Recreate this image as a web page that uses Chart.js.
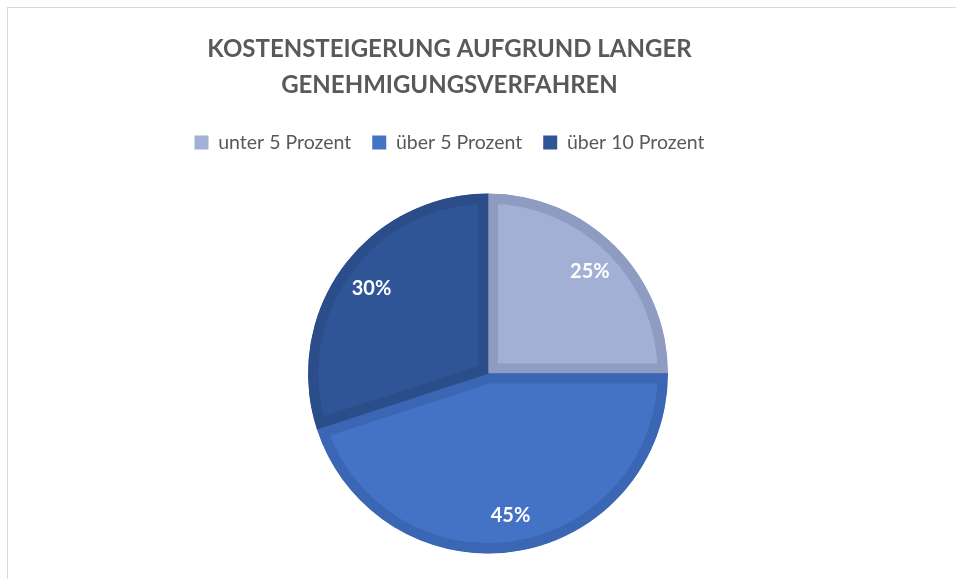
<!DOCTYPE html>
<html>
<head>
<meta charset="utf-8">
<script src="https://cdn.jsdelivr.net/npm/chart.js@4/dist/chart.umd.min.js"></script>
<style>
  html, body { margin: 0; padding: 0; background: #fff; }
  #frame {
    position: absolute; left: 7px; top: 7px; width: 949px; height: 572px;
    border-top: 1px solid #d9d9d9; border-left: 1px solid #d9d9d9;
  }
  #wrap { position: absolute; left: 0; top: 0; width: 956px; height: 579px; }
</style>
</head>
<body>
<div id="frame"></div>
<div id="wrap"><canvas id="costChart"></canvas></div>
<script>
// Kostensteigerung Chart
var titleLines = ['KOSTENSTEIGERUNG AUFGRUND LANGER', 'GENEHMIGUNGSVERFAHREN'];
var categories = ['unter 5 Prozent', 'über 5 Prozent', 'über 10 Prozent'];
var shares = [25, 45, 30];

var fillColors = ['#a3b0d6', '#4472c4', '#2f5597'];
var edgeColors = ['#8f9cc2', '#3b66b4', '#2b4d8a'];

// percent labels inside the slices
var sliceLabels = {
    id: 'sliceLabels',
    afterDatasetsDraw: function (chart) {
        var ctx = chart.ctx;
        var meta = chart.getDatasetMeta(0);
        ctx.save();
        ctx.fillStyle = '#ffffff';
        ctx.font = 'bold 20px Lato';
        ctx.textAlign = 'center';
        ctx.textBaseline = 'middle';
        meta.data.forEach(function (arc, i) {
            var p = arc.getProps(['x', 'y', 'startAngle', 'endAngle', 'outerRadius'], true);
            var mid = (p.startAngle + p.endAngle) / 2;
            var r = p.outerRadius * 0.8;
            ctx.fillText(shares[i] + '%', p.x + Math.cos(mid) * r, p.y + Math.sin(mid) * r);
        });
        ctx.restore();
    }
};

// pie sits a bit right of (and below) the title centre in the original
var shiftPie = {
    id: 'shiftPie',
    afterLayout: function (chart) {
        chart.chartArea.left += 38.5;
        chart.chartArea.right += 38.5;
        chart.chartArea.top += 2.9;
        chart.chartArea.bottom += 2.9;
    }
};

document.addEventListener('DOMContentLoaded', function () {
    var ctx = document.getElementById('costChart').getContext('2d');

    new Chart(ctx, {
        type: 'pie',
        data: {
            labels: categories,
            datasets: [{
                data: shares,
                backgroundColor: fillColors,
                borderColor: edgeColors,
                borderWidth: 10,
                borderAlign: 'inner',
                hoverOffset: 0,
                radius: 180
            }]
        },
        options: {
            responsive: true,
            maintainAspectRatio: false,
            animation: false,
            layout: {
                padding: { top: 0, left: 0, right: 57, bottom: 0 }
            },
            plugins: {
                title: {
                    display: true,
                    text: titleLines,
                    color: '#595959',
                    font: { family: 'Lato', size: 24, weight: 'bold', lineHeight: 1.52 },
                    padding: { top: 31, bottom: 7.75 }
                },
                legend: {
                    position: 'top',
                    labels: {
                        color: '#595959',
                        font: { family: 'Lato', size: 19.5 },
                        boxWidth: 14,
                        boxHeight: 14,
                        padding: 21,
                        generateLabels: function (chart) {
                            return categories.map(function (name, i) {
                                return {
                                    text: name,
                                    fillStyle: fillColors[i],
                                    strokeStyle: fillColors[i],
                                    lineWidth: 0,
                                    fontColor: '#595959',
                                    hidden: false,
                                    index: i
                                };
                            });
                        }
                    }
                },
                tooltip: { enabled: false }
            }
        },
        plugins: [shiftPie, sliceLabels]
    });
});
</script>
</body>
</html>
